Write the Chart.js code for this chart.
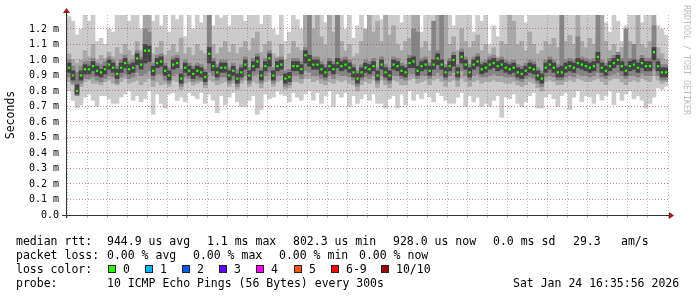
<!DOCTYPE html>
<html>
<head>
<meta charset="utf-8">
<title>SmokePing RTT</title>
<script src="https://cdn.jsdelivr.net/npm/chart.js@4.4.1/dist/chart.umd.min.js"></script>
<style>
  html, body { margin: 0; padding: 0; background: #fff; }
  #wrap { position: relative; width: 697px; height: 297px; overflow: hidden;
          font-family: "DejaVu Sans Mono", monospace; color: #000; }
  #rtt { position: absolute; left: 0; top: 0; }
  .t { position: absolute; font-size: 11.5px; line-height: 14px; white-space: pre; }
  .box { position: absolute; width: 6px; height: 6px; border: 1px solid #222; }
  #credit { position: absolute; left: 682px; top: 5px; writing-mode: vertical-rl;
            font-size: 8.3px; color: #bdbdbd; white-space: pre; }
</style>
</head>
<body>
<div id="wrap">
  <canvas id="rtt" width="697" height="297"></canvas>
  <div id="credit">RRDTOOL / TOBI OETIKER</div>

  <div class="t" style="left:16px;top:234px">median rtt:</div>
  <div class="t" style="left:107px;top:234px">944.9 us avg</div>
  <div class="t" style="left:207px;top:234px">1.1 ms max</div>
  <div class="t" style="left:293px;top:234px">802.3 us min</div>
  <div class="t" style="left:393px;top:234px">928.0 us now</div>
  <div class="t" style="left:493px;top:234px">0.0 ms sd</div>
  <div class="t" style="left:573px;top:234px">29.3</div>
  <div class="t" style="left:621px;top:234px">am/s</div>

  <div class="t" style="left:16px;top:248px">packet loss:</div>
  <div class="t" style="left:107px;top:248px">0.00 % avg</div>
  <div class="t" style="left:193px;top:248px">0.00 % max</div>
  <div class="t" style="left:279px;top:248px">0.00 % min</div>
  <div class="t" style="left:359px;top:248px">0.00 % now</div>

  <div class="t" style="left:16px;top:262px">loss color:</div>
  <div id="lossLegend"></div>

  <div class="t" style="left:16px;top:276px">probe:</div>
  <div class="t" style="left:107px;top:276px">10 ICMP Echo Pings (56 Bytes) every 300s</div>
  <div class="t" style="left:513px;top:276px">Sat Jan 24 16:35:56 2026</div>
</div>

<script>
// one column every 12 minutes, starting Fri 10:36 (hours since Fri 00:00)
// all values in units of 10 us  (95 = 0.95 ms)
const START_HOUR = 10.6;
const STEP_HOURS = 0.2;

const medianRtt = [
  95,90,80,90,94,94,96,93,92,94,   97,95,91,95,98,94,95,101,97,106,
  106,93,98,99,93,90,97,98,88,95,  93,91,93,92,89,104,96,92,95,95,
  90,93,88,92,97,90,96,99,90,96,   101,90,96,97,88,89,96,96,94,103,
  100,97,97,94,92,96,94,98,96,97,  95,92,88,92,95,94,96,90,97,92,
  90,97,96,93,92,98,99,93,96,97,   93,97,101,97,92,96,100,92,102,97,
  92,97,99,94,95,97,98,96,97,95,   94,95,92,91,93,95,94,90,88,95,
  97,95,92,92,95,96,95,98,97,96,   95,96,102,95,93,96,98,100,96,93,
  96,97,95,98,96,96,105,96,92,92
];

// outer smoke (fastest / slowest ping)
const smokeMin = [
  80,74,69,71,76,78,74,70,77,77,   75,72,72,76,78,80,74,77,73,75,
  80,65,78,72,69,78,79,74,76,73,   79,77,75,79,72,78,74,66,77,71,
  76,79,73,70,70,74,77,65,68,78,   75,76,80,78,77,73,79,76,74,78,
  80,74,79,72,77,80,70,78,76,79,   70,77,72,75,78,74,78,72,72,69,
  75,77,69,78,71,80,74,78,75,79,   76,73,79,77,74,72,72,76,79,70,
  77,73,76,70,72,70,74,77,63,76,   75,78,72,70,73,77,79,69,69,76,
  78,75,70,77,79,68,76,80,73,77,   76,72,78,74,77,80,71,79,74,78,
  80,75,77,74,69,72,76,82,81,83
];
const smokeMax = [
  128,125,116,120,129,125,129,112,114,110,  120,118,129,129,129,125,129,129,120,129,
  129,125,129,122,129,118,129,126,129,115,  129,120,129,124,129,129,122,129,127,129,
  122,129,129,129,125,129,129,129,123,129,  129,120,116,129,112,118,129,126,120,129,
  129,129,129,129,124,129,129,129,129,120,  129,114,122,129,118,129,129,129,126,129,
  129,129,129,124,129,129,129,129,118,129,  129,129,129,129,129,129,122,129,129,129,
  129,118,129,125,129,110,122,115,129,129,  129,129,129,129,124,129,129,129,129,129,
  129,129,129,129,129,129,129,129,129,129,  129,129,129,129,124,118,129,125,112,122,
  129,129,129,124,129,129,126,122,120,116
];

// 2nd / 9th ping
const band2Lo = [
  86,84,77,83,86,87,85,85,84,86,   87,85,84,86,88,85,86,87,84,86,
  88,83,86,84,85,83,87,86,81,85,   86,84,85,86,82,87,86,84,85,86,
  83,85,81,85,87,83,86,85,82,86,   87,83,86,87,81,82,86,86,85,88,
  88,86,87,85,84,86,85,87,86,87,   85,84,80,84,86,85,87,82,87,84,
  82,87,86,84,84,87,88,85,86,87,   84,87,88,86,83,86,87,83,88,86,
  83,86,87,85,86,86,87,86,86,85,   85,86,84,83,84,86,85,82,80,86,
  87,86,84,84,86,87,86,88,87,86,   86,87,88,86,84,87,88,88,86,84,
  86,87,86,88,87,86,90,87,85,86
];
const band2Hi = [
  104,100,98,100,106,102,110,100,103,101,  105,102,108,104,110,106,103,112,106,129,
  129,104,108,112,103,106,110,105,114,104,  108,103,110,106,104,129,110,104,108,112,
  105,110,104,108,112,106,114,118,105,110,  112,104,102,110,100,104,112,108,106,129,
  129,120,129,115,110,129,118,129,112,106,  110,102,104,112,120,129,118,125,112,129,
  116,122,110,106,112,114,129,129,108,112,  106,110,129,120,129,110,115,106,120,112,
  108,112,116,106,110,104,108,102,112,110,  129,125,110,112,106,118,110,104,106,112,
  110,114,108,129,112,116,110,129,112,108,  114,110,116,129,112,106,110,104,108,110,
  112,106,129,110,108,112,129,108,104,100
];

// 3rd / 8th ping
const band3Lo = [
  89,85,77,85,88,88,89,87,86,88,   90,89,85,89,91,88,89,92,90,91,
  93,87,91,91,87,85,90,91,83,89,   88,86,87,87,84,92,90,87,89,89,
  85,87,83,87,90,85,90,91,85,90,   92,85,90,90,83,84,90,90,88,93,
  92,90,90,88,87,90,88,91,90,90,   89,87,83,87,89,88,90,85,90,87,
  85,90,90,88,87,91,91,88,90,90,   88,90,92,90,87,90,92,87,93,90,
  87,90,91,89,89,90,91,90,90,89,   89,89,87,86,88,89,88,85,83,89,
  90,89,87,87,89,90,89,91,90,90,   89,90,92,89,88,90,91,92,90,88,
  90,90,89,91,90,90,94,90,87,87
];
const band3Hi = [
  100,96,92,96,99,99,101,98,97,99,  102,100,96,100,103,99,100,106,102,120,
  118,98,103,104,98,95,102,103,94,100,  98,96,98,97,94,129,101,97,100,100,
  95,98,94,97,102,95,101,104,95,101,  106,95,101,102,93,94,101,101,99,108,
  129,102,102,99,97,101,99,129,101,102,  100,97,93,97,100,99,101,95,102,97,
  95,102,101,98,97,103,120,118,101,102,  98,125,106,129,97,101,105,97,107,102,
  97,102,104,99,100,102,103,101,102,100,  99,100,97,96,98,100,99,95,93,100,
  102,100,97,129,100,101,100,115,102,101,  100,101,129,100,98,101,103,105,101,120,
  101,110,100,103,101,101,122,101,97,97
];

// 4th / 7th ping
const band4Lo = [
  92,87,78,87,91,91,93,90,89,91,   94,92,88,92,95,91,92,97,94,98,
  99,90,95,96,90,87,94,95,85,92,   90,88,90,89,86,98,93,89,92,92,
  87,90,85,89,94,87,93,95,87,93,   96,87,93,94,85,86,93,93,91,98,
  96,94,94,91,89,93,91,95,93,94,   92,89,85,89,92,91,93,87,94,89,
  87,94,93,90,89,95,95,90,93,94,   90,94,97,94,89,93,96,89,98,94,
  89,94,96,91,92,94,95,93,94,92,   91,92,89,88,90,92,91,87,85,92,
  94,92,89,89,92,93,92,95,94,93,   92,93,98,92,90,93,95,97,93,90,
  93,94,92,95,93,93,100,93,89,89
];
const band4Hi = [
  98,93,84,93,97,96,99,96,94,96,   100,98,94,98,101,97,98,104,100,110,
  109,96,101,102,96,93,100,101,91,98,  96,94,96,95,92,108,99,95,98,98,
  93,96,91,95,100,93,99,102,93,99,  104,93,99,100,91,92,99,99,97,106,
  103,100,100,97,95,99,97,101,99,100,  98,95,91,95,98,97,99,93,100,95,
  93,100,99,96,95,101,102,96,99,100,  96,100,104,100,95,99,103,95,105,100,
  95,100,102,97,98,100,101,99,100,98,  97,98,95,94,96,98,97,93,91,98,
  100,98,95,96,98,99,98,101,100,99,  98,99,105,98,96,99,101,103,99,96,
  99,100,98,101,99,99,108,99,95,95
];

const tickHours = [12, 18, 24, 30, 36];
const tickLabels = ['Fri 12:00', 'Fri 18:00', 'Sat 00:00', 'Sat 06:00', 'Sat 12:00'];

const lossLabels = ['0', '1', '2', '3', '4', '5', '6-9', '10/10'];
const lossColors = ['#26ff00', '#00b8ff', '#0059ff', '#5e00ff', '#ff00ff', '#ff5500', '#ff0000', '#a10000'];

const MONO = '"DejaVu Sans Mono", monospace';
const RED_GRID = 'rgba(220, 50, 50, 0.6)';
const GREY_GRID = 'rgba(130, 130, 130, 0.55)';

// --- loss colour legend ---
const boxLeft = [108, 145, 182, 219, 256, 294, 331, 381];
const legendEl = document.getElementById('lossLegend');
lossLabels.forEach((lbl, i) => {
    legendEl.insertAdjacentHTML('beforeend',
        `<div class="box" style="left:${boxLeft[i]}px;top:265px;background:${lossColors[i]}"></div>` +
        `<div class="t" style="left:${boxLeft[i] + 15}px;top:262px">${lbl}</div>`);
});

// --- chart ---
const times = medianRtt.map((_, i) => START_HOUR + STEP_HOURS * (i + 0.5));

function smokeBand(lo, hi, color, order) {
    return {
        type: 'bar',
        data: times.map((t, i) => ({ x: t, y: [lo[i], hi[i]] })),
        backgroundColor: color,
        borderWidth: 0,
        barPercentage: 1,
        categoryPercentage: 1,
        order: order
    };
}

const rrdAxes = {
    id: 'rrdAxes',
    afterDraw(chart) {
        const { ctx, chartArea: a } = chart;
        ctx.save();
        ctx.strokeStyle = '#333';
        ctx.lineWidth = 1;
        ctx.beginPath();
        ctx.moveTo(a.left - 0.5, a.bottom + 3);
        ctx.lineTo(a.left - 0.5, a.top - 3);
        ctx.moveTo(a.left - 5, a.bottom + 0.5);
        ctx.lineTo(a.right + 1, a.bottom + 0.5);
        ctx.stroke();
        ctx.fillStyle = '#a01818';
        ctx.beginPath();
        ctx.moveTo(a.left - 0.5, a.top - 7);
        ctx.lineTo(a.left - 4, a.top - 2);
        ctx.lineTo(a.left + 3, a.top - 2);
        ctx.closePath();
        ctx.fill();
        ctx.beginPath();
        ctx.moveTo(a.right + 6, a.bottom + 0.5);
        ctx.lineTo(a.right + 1, a.bottom - 3);
        ctx.lineTo(a.right + 1, a.bottom + 4);
        ctx.closePath();
        ctx.fill();
        ctx.restore();
    }
};

new Chart(document.getElementById('rtt'), {
    type: 'bar',
    data: {
        datasets: [
            {
                type: 'line',
                data: times.map((t, i) => ({ x: t, y: medianRtt[i] })),
                showLine: false,
                pointStyle: 'rect',
                pointRadius: 1.6,
                pointBorderWidth: 0,
                pointBackgroundColor: '#26ff00',
                order: 0
            },
            smokeBand(band4Lo, band4Hi, '#444444', 1),
            smokeBand(band3Lo, band3Hi, '#858585', 2),
            smokeBand(band2Lo, band2Hi, '#a8a8a8', 3),
            smokeBand(smokeMin, smokeMax, '#cbcbcb', 4)
        ]
    },
    options: {
        responsive: false,
        animation: false,
        events: [],
        layout: { padding: { left: 0, top: 15, right: 29, bottom: 65 } },
        plugins: { legend: { display: false }, tooltip: { enabled: false } },
        scales: {
            x: {
                type: 'linear',
                stacked: true,
                offset: false,
                min: START_HOUR,
                max: START_HOUR + STEP_HOURS * medianRtt.length,
                afterFit: (scale) => { scale.height = 17; },
                border: { display: false, dash: [1, 2] },
                grid: {
                    offset: false,
                    z: 1,
                    tickLength: 3,
                    color: (c) => (c.tick && c.tick.value % 3 === 0) ? RED_GRID : GREY_GRID,
                    tickColor: (c) => (c.tick && c.tick.value % 3 === 0) ? RED_GRID : GREY_GRID
                },
                ticks: {
                    stepSize: 1,
                    includeBounds: false,
                    autoSkip: false,
                    maxRotation: 0,
                    padding: 1,
                    color: '#000',
                    font: { family: MONO, size: 10 },
                    callback: (v) => {
                        const k = tickHours.indexOf(v);
                        return k >= 0 ? tickLabels[k] : '';
                    }
                }
            },
            y: {
                min: 0,
                max: 129,
                afterFit: (scale) => { scale.width = 67; },
                border: { display: false, dash: [1, 2] },
                grid: { z: 1, tickLength: 4, color: RED_GRID, tickColor: 'rgba(0,0,0,0)' },
                title: {
                    display: true,
                    text: 'Seconds',
                    color: '#000',
                    font: { family: MONO, size: 11.5 },
                    padding: { top: 4, bottom: 4 }
                },
                ticks: {
                    stepSize: 10,
                    includeBounds: false,
                    padding: 4,
                    color: '#000',
                    font: { family: MONO, size: 10 },
                    callback: (v) => v === 0 ? '0.0' : (v / 100).toFixed(1) + ' m'
                }
            }
        }
    },
    plugins: [rrdAxes]
});
</script>
</body>
</html>
